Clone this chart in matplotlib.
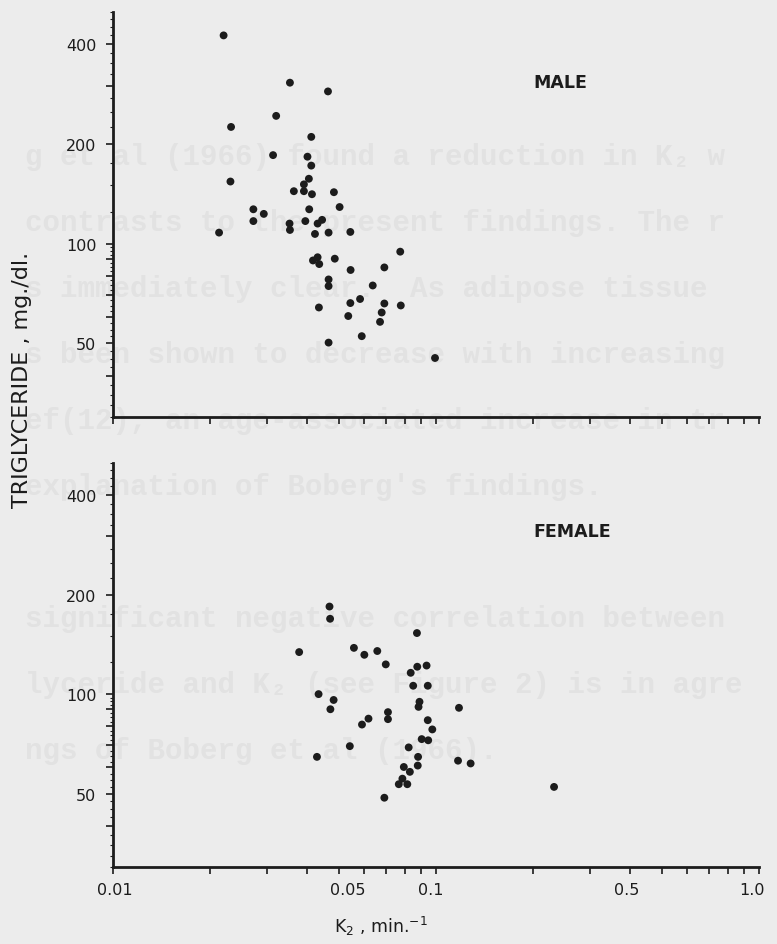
import matplotlib.pyplot as plt
from matplotlib.ticker import FixedLocator, FixedFormatter, LogLocator, NullFormatter
from matplotlib.transforms import ScaledTranslation
import numpy as np

# K2 (min^-1) and serum triglyceride (mg/dl) per subject
male_k2 = [0.022, 0.0353, 0.0463, 0.032, 0.0232, 0.0411, 0.0313, 0.040, 0.0411, 0.0231,
           0.0404, 0.039, 0.0363, 0.039, 0.0413, 0.0483, 0.0272, 0.0293, 0.0272, 0.0213,
           0.0352, 0.0353, 0.0405, 0.0503, 0.0394, 0.0444, 0.043, 0.0422, 0.0465, 0.0543,
           0.0775, 0.0416, 0.043, 0.0435, 0.0486, 0.0544, 0.0692, 0.0465, 0.0465, 0.0637,
           0.0582, 0.0543, 0.0692, 0.0778, 0.0434, 0.0679, 0.0535, 0.0671, 0.0589, 0.0465,
           0.0993]
male_tg = [425, 306, 288, 243, 225, 210, 185, 183, 172, 154,
           157, 151, 144, 144, 141, 143, 127, 123, 117, 108,
           115, 110, 127, 129, 117, 118, 115, 107, 108, 108.5,
           94.6, 89, 91, 86.8, 90.1, 83.3, 84.8, 78, 74.5, 74.8,
           68.1, 66.2, 66, 65.1, 64.2, 62, 60.5, 58.1, 52.6, 50.3,
           45.2]

female_k2 = [0.0468, 0.047, 0.0873, 0.0377, 0.0557, 0.060, 0.0658, 0.0699, 0.0835, 0.0875,
             0.0935, 0.0433, 0.0482, 0.0471, 0.0618, 0.059, 0.071, 0.071, 0.085, 0.0943,
             0.0889, 0.0883, 0.0943, 0.0974, 0.0903, 0.0946, 0.0823, 0.088, 0.0878, 0.0795,
             0.083, 0.0787, 0.0767, 0.0815, 0.0692, 0.0428, 0.0541, 0.1178, 0.117, 0.128,
             0.232]
female_tg = [184, 169, 153, 134, 138, 131.5, 135, 123, 116, 121,
             122, 100, 96, 90, 84.3, 80.9, 88.2, 84, 106, 106,
             94.8, 91.5, 83.4, 78.2, 73.1, 72.5, 69, 64.6, 60.8, 60.2,
             58.2, 55.5, 53.4, 53.4, 48.6, 64.6, 69.6, 90.9, 62.9, 61.7,
             52.4]

x_ticks = [0.01, 0.02, 0.03, 0.04, 0.05, 0.06, 0.07, 0.08, 0.09,
           0.1, 0.2, 0.3, 0.4, 0.5, 0.6, 0.7, 0.8, 0.9, 1.0]
x_labels = {0.01: '0.01', 0.05: '0.05', 0.1: '0.1', 0.5: '0.5', 1.0: '1.0'}
y_ticks = [40, 50, 60, 70, 80, 90, 100, 200, 300, 400]
y_labels = {50: '50', 100: '100', 200: '200', 400: '400'}

# typed text from the facing page that shows through the paper
back_page = [
    "g et al (1966) found a reduction in K\u2082 w",
    "contrasts to the present findings. The r",
    "s immediately clear.  As adipose tissue",
    "s been shown to decrease with increasing",
    "ef(12), an age-associated increase in tr",
    "explanation of Boberg's findings.",
    "",
    "significant negative correlation between",
    "lyceride and K\u2082 (see Figure 2) is in agre",
    "ngs of Boberg et al (1966).",
]

W, H = 777, 945
INK = '#1c1c1c'

fig = plt.figure(figsize=(W / 100, H / 100), dpi=100)
fig.patch.set_facecolor('#ececec')

for i, line in enumerate(back_page):
    fig.text(25 / W, 1 - (157 + 66 * i) / H, line, family='Liberation Mono',
             fontweight='bold', fontsize=21, color='#e2e2e2', ha='left', va='center',
             zorder=-5)


def setup(ax, show_x):
    ax.set_xscale('log')
    ax.set_yscale('log')
    ax.set_xlim(0.01, 1.0)
    ax.set_ylim(30, 500)
    ax.patch.set_alpha(0)
    for s in ['top', 'right']:
        ax.spines[s].set_visible(False)
    for s in ['left', 'bottom']:
        ax.spines[s].set_linewidth(2.0)
        ax.spines[s].set_color(INK)

    ax.xaxis.set_major_locator(FixedLocator(x_ticks))
    if show_x:
        ax.xaxis.set_major_formatter(FixedFormatter([x_labels.get(t, '') for t in x_ticks]))
    else:
        ax.xaxis.set_major_formatter(NullFormatter())
    ax.xaxis.set_minor_locator(FixedLocator([]))

    ax.yaxis.set_major_locator(FixedLocator(y_ticks))
    ax.yaxis.set_major_formatter(FixedFormatter([y_labels.get(t, '') for t in y_ticks]))
    ax.yaxis.set_minor_locator(LogLocator(base=10, subs=np.arange(1.0, 10.0, 0.25)))
    ax.yaxis.set_minor_formatter(NullFormatter())

    ax.tick_params(which='major', direction='out', length=5, width=1.2, color=INK,
                   labelcolor=INK, labelsize=11.5)
    ax.tick_params(axis='y', which='major', pad=7)
    ax.tick_params(axis='x', which='major', pad=6)
    ax.tick_params(which='minor', direction='out', length=2, width=0.8, color=INK)


ax_m = fig.add_axes([113 / W, 1 - 418 / H, 646 / W, 405 / H])
ax_f = fig.add_axes([113 / W, 1 - 868 / H, 646 / W, 404 / H])
setup(ax_m, False)
setup(ax_f, True)

ax_m.scatter(male_k2, male_tg, s=32, color=INK, edgecolors='none', zorder=3)
ax_f.scatter(female_k2, female_tg, s=32, color=INK, edgecolors='none', zorder=3)

# hand-lettered x labels sit a little off their ticks
shift_px = {'0.01': 2, '0.05': 9, '0.1': -5, '0.5': -35, '1.0': -7}
for lbl in ax_f.get_xticklabels():
    dx = shift_px.get(lbl.get_text(), 0)
    if dx:
        lbl.set_transform(lbl.get_transform() + ScaledTranslation(dx / 100, 0, fig.dpi_scale_trans))

fig.text(533 / W, 1 - 83 / H, 'MALE', fontsize=12.5, fontweight='bold', color=INK,
         ha='left', va='center')
fig.text(533 / W, 1 - 532 / H, 'FEMALE', fontsize=12.5, fontweight='bold', color=INK,
         ha='left', va='center')

fig.text(22 / W, 1 - 380 / H, 'TRIGLYCERIDE , mg./dl.', rotation=90, fontsize=16,
         color=INK, ha='center', va='center')
fig.text(381 / W, 1 - 926 / H, r'K$_2$ , min.$^{-1}$', fontsize=12.5, color=INK,
         ha='center', va='center')

fig.savefig('out.png', dpi=100, facecolor=fig.get_facecolor())
